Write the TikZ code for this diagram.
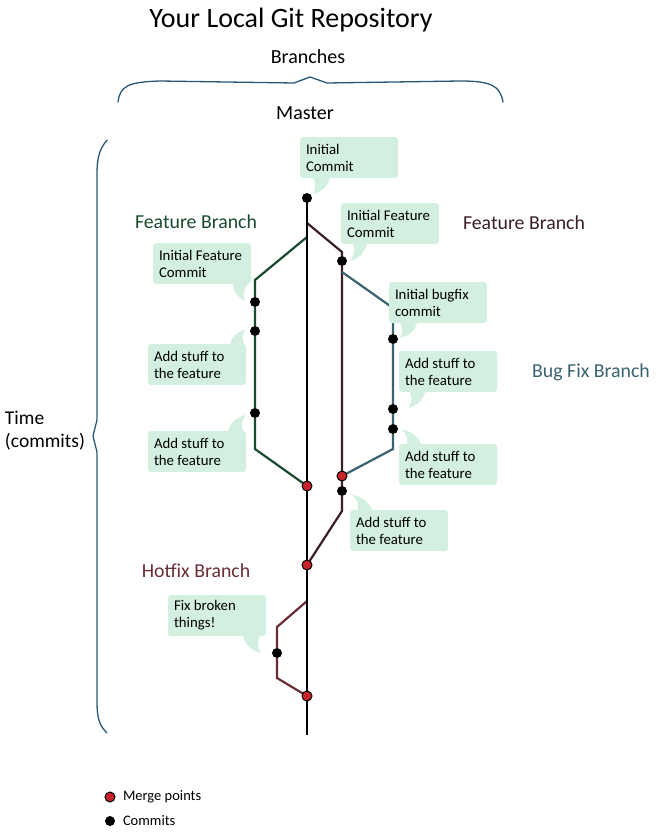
\documentclass[tikz,border=0pt]{standalone}
\usepackage{fontspec}
\setmainfont{Carlito}
\usetikzlibrary{calc,backgrounds}
\definecolor{notegreen}{RGB}{211,239,224}
\definecolor{mergered}{RGB}{200,35,42}
\definecolor{featgreen}{RGB}{26,74,46}
\definecolor{featmaroon}{RGB}{58,30,40}
\definecolor{bugteal}{RGB}{58,98,112}
\definecolor{hotred}{RGB}{106,44,53}
\definecolor{bracecol}{RGB}{40,88,120}
\begin{document}
\begin{tikzpicture}
	[x=1pt,y=-1pt,
	every node/.style={inner sep=0pt,outer sep=0pt},
	commit/.style={shape=circle,fill=black,minimum size=10pt},
	merge/.style={shape=circle,draw=black,line width=1pt,fill=mergered,minimum size=10pt},
	note/.style={anchor=north west,fill=notegreen,rounded corners=3pt,text=black,
		text width=86pt,inner xsep=6pt,minimum height=41pt,align=flush left,
		font=\fontsize{14.8pt}{17pt}\selectfont},
	heading/.style={font=\fontsize{20pt}{23pt}\selectfont},
	branch/.style={font=\fontsize{19.8pt}{22pt}\selectfont},
	brace/.style={line width=1.3pt,color=bracecol,line cap=round,line join=round},
	line/.style={line width=2.2pt}]
	\def\tail#1#2#3#4{\fill[notegreen] (#1) to[bend left=#4] (#2) to[bend right=#4] (#3) -- cycle;}
	\useasboundingbox (0,0) rectangle (663,833);
	\node[font=\fontsize{28pt}{30pt}\selectfont] (title) at (291,20) {Your Local Git Repository};
	\node[heading]                  (branches) at (308,57)  {Branches};
	\node[heading]                  (master)   at (305,113) {Master};
	\node[heading,anchor=west,align=left,font=\fontsize{19.5pt}{23pt}\selectfont]
	                                (time)     at (5,431)   {Time\\(commits)};
	\node[branch,text=featgreen]    (lblfl)    at (196,222) {Feature Branch};
	\node[branch,text=featmaroon]   (lblfr)    at (524,223) {Feature Branch};
	\node[branch,text=bugteal]      (lblbug)   at (591,372) {Bug Fix Branch};
	\node[branch,text=hotred]       (lblhot)   at (196,571) {Hotfix Branch};
	\draw[brace] (118,102) .. controls (120,86) and (128,82) .. (160,81) -- (294,83)
	-- (310,77) -- (327,83) -- (460,81) .. controls (492,81) and (500,86) .. (503,102);
	\draw[brace] (107,140) .. controls (99,150) and (97,158) .. (97,175) -- (97,420)
	-- (93,436) -- (97,452) -- (97,700) .. controls (97,718) and (99,725) .. (107,733);
	\node[commit] (m0) at (307,198) {};
	\node[merge]  (m1) at (307,486) {};
	\node[merge]  (m2) at (307,565) {};
	\node[merge]  (m3) at (307,696) {};
	\node[commit] (g1) at (255,302) {};
	\node[commit] (g2) at (255,331) {};
	\node[commit] (g3) at (255,413) {};
	\node[commit] (r1) at (342,261) {};
	\node[merge]  (rm) at (342,476) {};
	\node[commit] (r2) at (342,491) {};
	\node[commit] (b1) at (393,339) {};
	\node[commit] (b2) at (393,409) {};
	\node[commit] (b3) at (393,429) {};
	\node[commit] (h1) at (277,653) {};
	\coordinate (fr)   at (307,223);
	\coordinate (fl)   at (307,237);
	\coordinate (ha)   at (307,601);
	\coordinate (mend) at (307,735);
	\coordinate (ga)   at (255,280);
	\coordinate (gb)   at (255,449);
	\coordinate (ra)   at (342,252);
	\coordinate (rb)   at (342,511);
	\coordinate (bf)   at (342,272);
	\coordinate (ba)   at (393,308);
	\coordinate (bb)   at (393,449);
	\coordinate (hb)   at (277,627);
	\coordinate (hc)   at (277,678);
	\begin{scope}[on background layer]
	\draw[line,color=featgreen]  (fl) -- (ga) -- (g1) -- (g2) -- (g3) -- (gb) -- (m1);
	\draw[line,color=featmaroon] (fr) -- (ra) -- (r1) -- (rm) -- (r2) -- (rb) -- (m2);
	\draw[line,color=bugteal]    (bf) -- (ba) -- (b1) -- (b2) -- (b3) -- (bb) -- (rm);
	\draw[line,color=hotred]     (ha) -- (hb) -- (h1) -- (hc) -- (m3);
	\draw[line]                  (m0) -- (m1) -- (m2) -- (m3) -- (mend);
	\end{scope}
	\node[note] (ninit)  at (300,137) {Initial\\Commit};
	\node[note] (nfeatr) at (341,203) {Initial Feature\\Commit};
	\node[note] (nfeatl) at (153,243) {Initial Feature\\Commit};
	\node[note] (nbug)   at (389,282) {Initial bugfix\\commit};
	\node[note] (naddl1) at (148,344) {Add stuff to\\the feature};
	\node[note] (naddl2) at (148,431) {Add stuff to\\the feature};
	\node[note] (naddb1) at (399,351) {Add stuff to\\the feature};
	\node[note] (naddb2) at (399,444) {Add stuff to\\the feature};
	\node[note] (naddm)  at (350,510) {Add stuff to\\the feature};
	\node[note] (nfix)   at (168,595) {Fix broken\\things!};
	\tail{$(ninit.south west)+(13,0)$}{$(m0)+(6,-4)$}{$(ninit.south west)+(30,0)$}{30}
	\tail{$(nfeatr.south west)+(12,0)$}{$(r1)+(8,0)$}{$(nfeatr.south west)+(26,0)$}{30}
	\tail{$(nfeatl.south west)+(95,0)$}{$(g1)+(-10,-1)$}{$(nfeatl.south west)+(80,0)$}{-30}
	\tail{$(nbug.south west)+(11,0)$}{$(b1)+(7,-1)$}{$(nbug.south west)+(28,0)$}{30}
	\tail{$(naddl1.north west)+(96,0)$}{$(g2)+(-10,-1)$}{$(naddl1.north west)+(82,0)$}{30}
	\tail{$(naddl2.north west)+(95,0)$}{$(g3)+(-9,2)$}{$(naddl2.north west)+(80,0)$}{30}
	\tail{$(naddb1.south west)+(11,0)$}{$(b2)+(15,-1)$}{$(naddb1.south west)+(26,0)$}{30}
	\tail{$(naddb2.north west)+(8,0)$}{$(b3)+(9,1)$}{$(naddb2.north west)+(22,0)$}{-30}
	\tail{$(naddm.north west)+(8,0)$}{$(r2)+(10,4)$}{$(naddm.north west)+(22,0)$}{-30}
	\tail{$(nfix.south west)+(92,0)$}{$(h1)+(-16,0)$}{$(nfix.south west)+(75,0)$}{-30}
	\node[merge]  (legmerge)  at (110,797) {};
	\node[commit] (legcommit) at (110,821) {};
	\node[anchor=west,font=\fontsize{14.5pt}{15pt}\selectfont] (lblmerge)  at (123,797) {Merge points};
	\node[anchor=west,font=\fontsize{14.5pt}{15pt}\selectfont] (lblcommit) at (123,821) {Commits};
\end{tikzpicture}
\end{document}
